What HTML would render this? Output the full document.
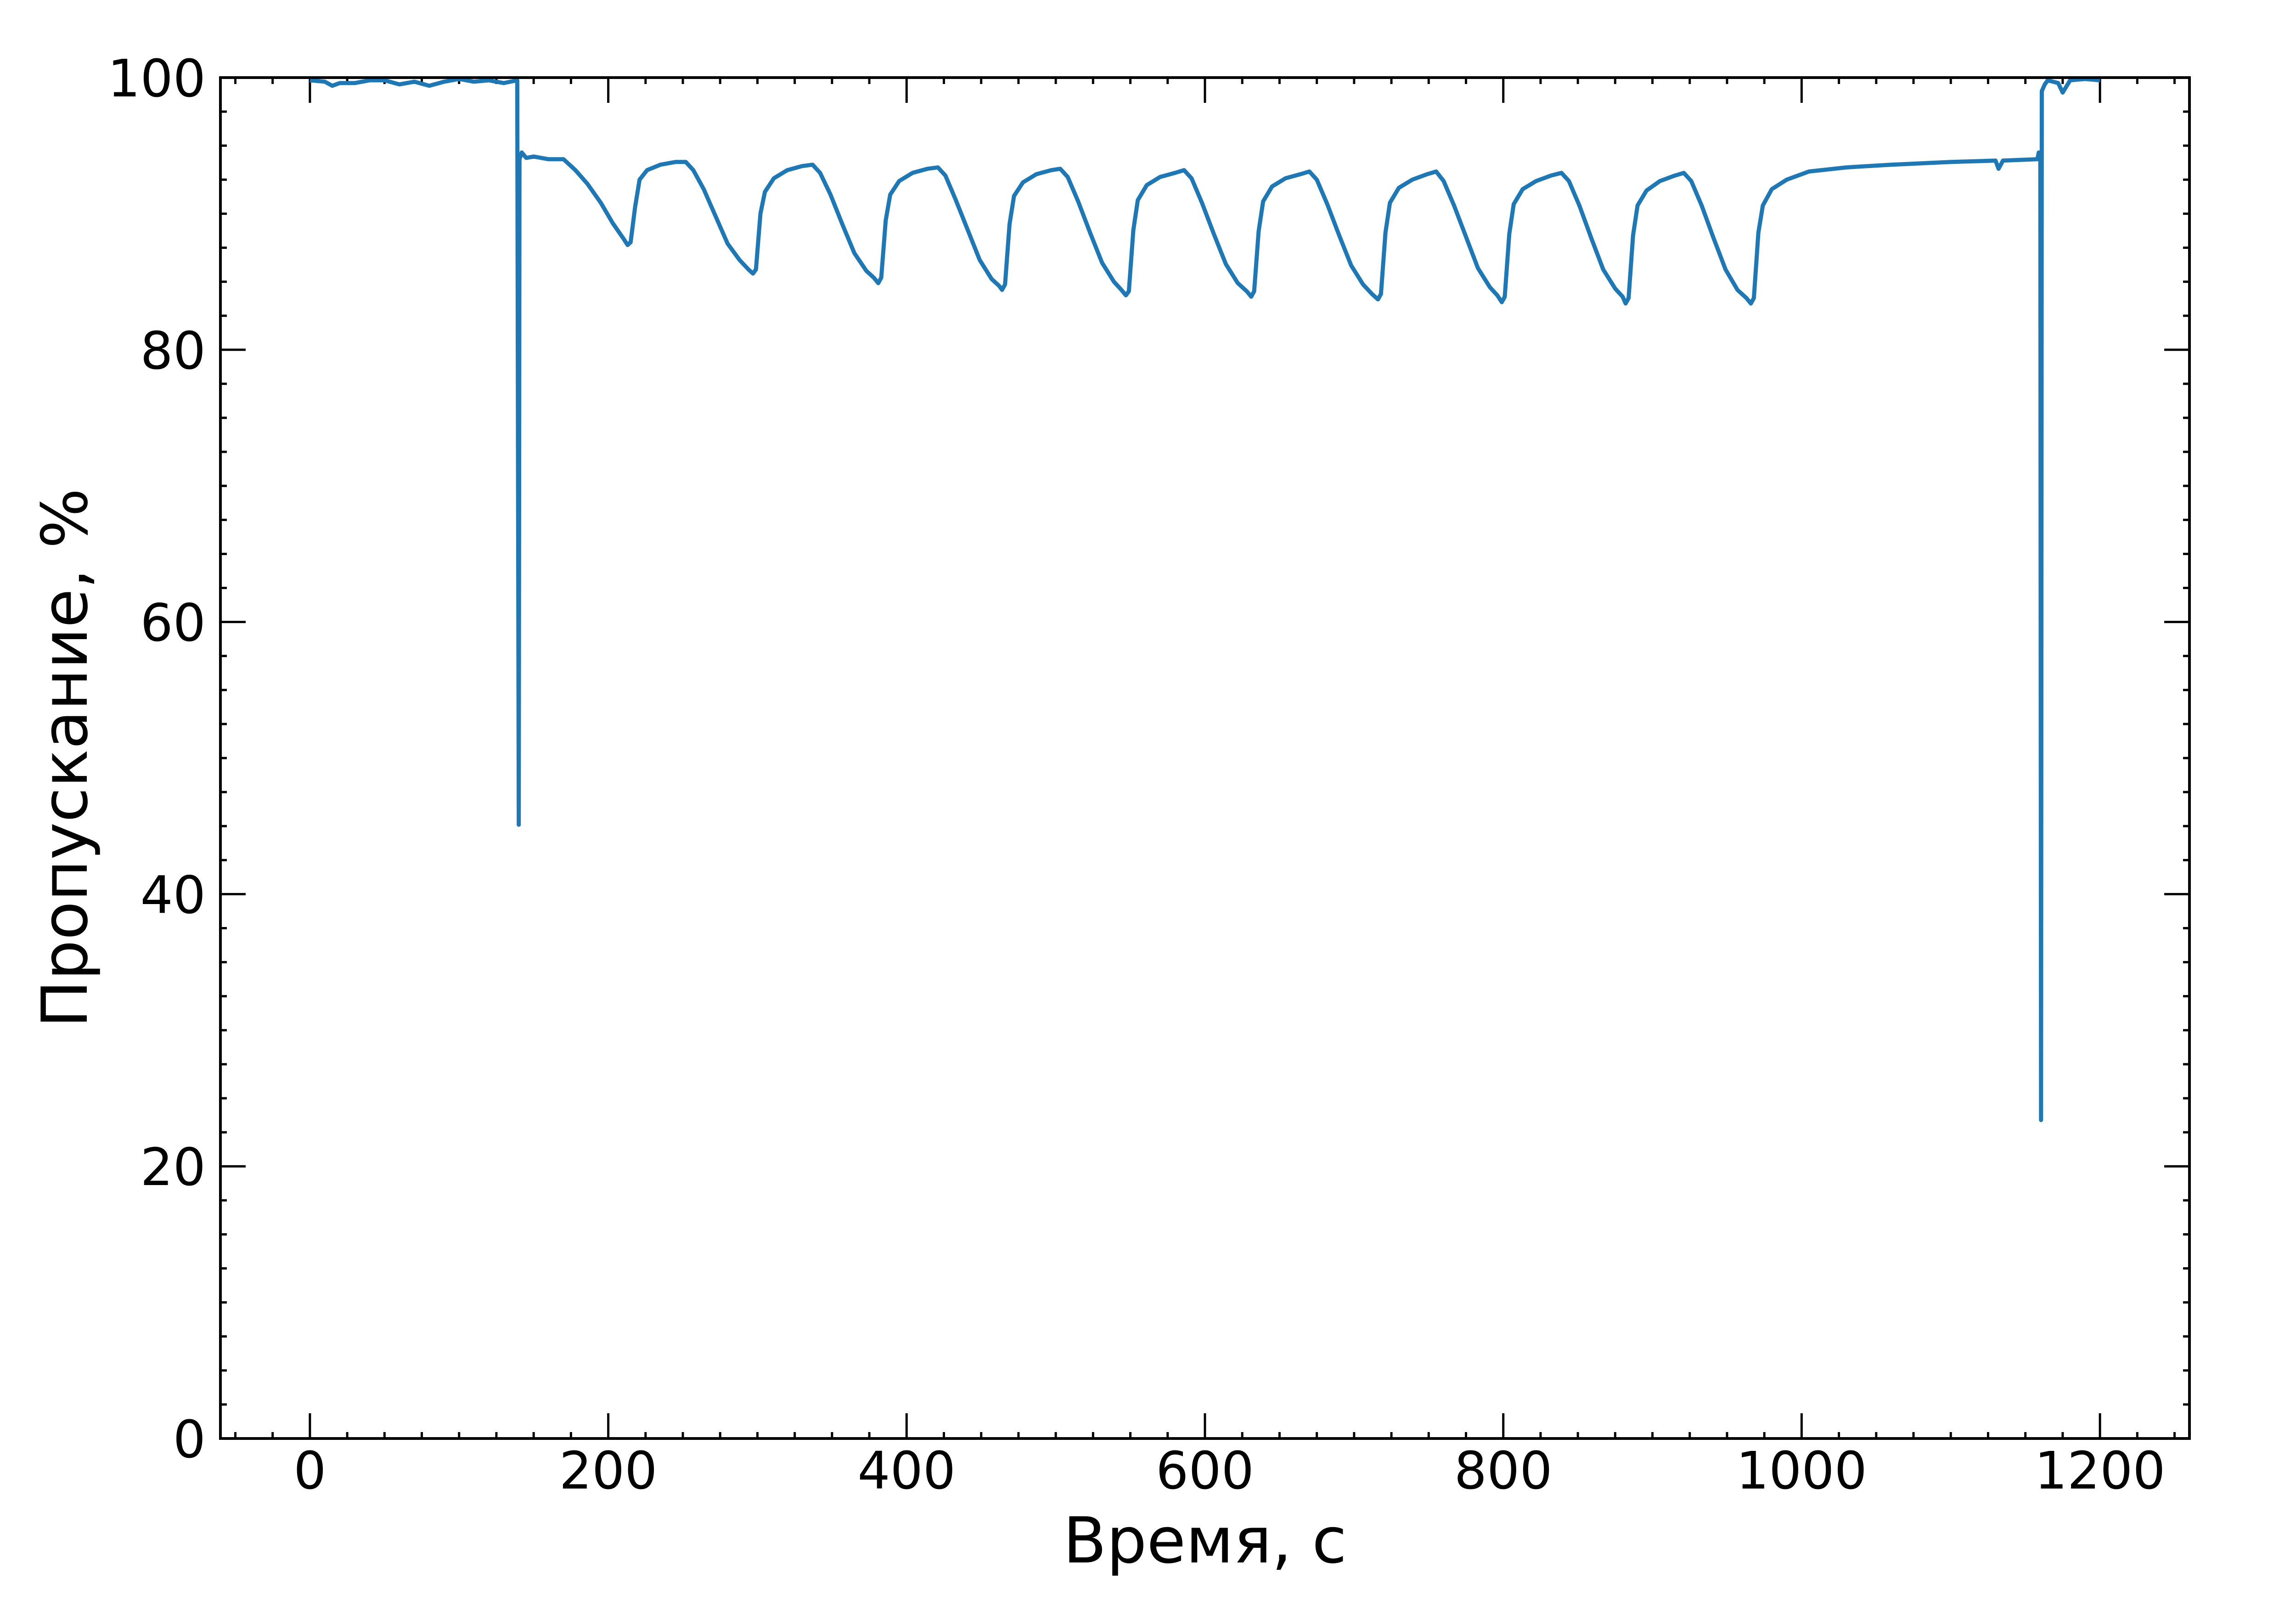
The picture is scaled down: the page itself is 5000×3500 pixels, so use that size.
<!DOCTYPE html>
<html><head><meta charset="utf-8">
<style>
html,body{margin:0;padding:0;background:#fff;}
svg{display:block;}
text{font-family:"DejaVu Sans","Liberation Sans",sans-serif;fill:#000;}
</style></head>
<body>
<svg id="chart" xmlns="http://www.w3.org/2000/svg" width="5000" height="3500" viewBox="0 0 5000 3500">
<rect x="0" y="0" width="5000" height="3500" fill="#fff"/>
<defs><clipPath id="plotclip"><rect x="480" y="169" width="4288" height="2964"/></clipPath></defs>
<g id="ticks"></g>
<g id="series" clip-path="url(#plotclip)"></g>
<rect x="480" y="169" width="4288" height="2964" fill="none" stroke="#000" stroke-width="6"/>
<g id="labels"></g>
<text x="2624" y="3403" font-size="138" text-anchor="middle">Время, с</text>
<text transform="translate(189,1651) rotate(-90)" x="0" y="0" font-size="138" text-anchor="middle">Пропускание, %</text>
</svg>
<script>
const xMajorTicks = [0, 200, 400, 600, 800, 1000, 1200];
const xTickLabels = ["0", "200", "400", "600", "800", "1000", "1200"];
const yMajorTicks = [0, 20, 40, 60, 80, 100];
const yTickLabels = ["0", "20", "40", "60", "80", "100"];
const xMinorStep = 25;
const yMinorStep = 2.5;
const timeValues = [0,10,15,20,30,40,50,60,70,80,90,100,110,120,130,139,140,140.5,142,145,150,160,170,178,186,195,203,210,213,215,218,221,226,235,245,252,
257,264,272,280,288,294,297,299,302,305,311,320,330,337,
342,349,357,365,373,378,381,383,386,389,395,404,414,421,
426,433,441,449,457,462,464,466,469,472,478,487,497,503,
508,515,523,531,539,544,547,549,552,555,561,570,580,586,
591,598,606,614,622,628,631,633,636,639,645,654,664,670,
675,682,690,698,706,712,716,718,721,724,730,739,749,755,
760,767,775,783,791,796,799,801,804,807,813,822,832,839,
844,851,859,867,875,880,882,884,887,890,896,905,915,921,
926,933,941,949,957,963,966,968,971,974,980,990,1005,1030,1060,1100,1130,1132,1135,1158,1159,1160,1160.5,1161,1163,1165,1172,1175,1180,1190,1200];
const transmissionValues = [99.8,99.7,99.4,99.6,99.6,99.8,99.8,99.5,99.7,99.4,99.7,99.9,99.7,99.8,99.6,99.8,45.1,94.0,94.5,94.1,94.2,94.0,94.0,93.2,92.2,90.8,89.3,88.2,87.7,87.9,90.5,92.5,93.2,93.6,93.8,93.8,
93.2,91.8,89.8,87.8,86.6,85.9,85.6,85.9,90.0,91.6,92.6,93.2,93.5,93.6,
93.0,91.4,89.2,87.1,85.8,85.3,84.9,85.3,89.5,91.4,92.4,93.0,93.3,93.4,
92.8,91.0,88.8,86.6,85.2,84.7,84.4,84.8,89.2,91.3,92.3,92.9,93.2,93.3,
92.7,90.9,88.6,86.4,85.0,84.4,84.0,84.3,88.8,91.0,92.1,92.7,93.0,93.2,
92.6,90.8,88.5,86.3,84.9,84.3,83.9,84.3,88.7,90.9,92.0,92.6,92.9,93.1,
92.5,90.7,88.4,86.2,84.8,84.1,83.7,84.1,88.6,90.8,91.9,92.5,92.9,93.1,
92.4,90.6,88.3,86.0,84.6,84.0,83.5,83.9,88.5,90.7,91.8,92.4,92.8,93.0,
92.4,90.6,88.2,85.9,84.5,83.9,83.4,83.8,88.4,90.6,91.7,92.4,92.8,93.0,
92.4,90.6,88.2,85.9,84.4,83.8,83.4,83.8,88.6,90.6,91.8,92.5,93.1,93.4,93.6,93.8,93.9,93.3,93.9,94.0,94.5,93.9,23.4,99.0,99.5,99.8,99.6,98.9,99.8,99.9,99.8];

const X0=480, X1=4768, Y0=3133, Y1=169, XMIN=-60, XMAX=1260, YMIN=0, YMAX=100;
function sx(v){return X0+(v-XMIN)/(XMAX-XMIN)*(X1-X0);}
function sy(v){return Y0-(v-YMIN)/(YMAX-YMIN)*(Y0-Y1);}
const NS="http://www.w3.org/2000/svg";
const tg=document.getElementById('ticks'), lg=document.getElementById('labels'), sg=document.getElementById('series');
function line(g,x1,y1,x2,y2,name){
  const l=document.createElementNS(NS,'line');
  l.setAttribute('x1',x1);l.setAttribute('y1',y1);l.setAttribute('x2',x2);l.setAttribute('y2',y2);
  l.setAttribute('stroke','#000');l.setAttribute('stroke-width','5');
  
  
  g.appendChild(l);
}
const MAJ=55, MIN=14;
for(let v=-50; v<=1250; v+=xMinorStep){
  const x=sx(v); const major=xMajorTicks.indexOf(v)>=0; const L=major?MAJ:MIN;
  line(tg,x,Y0,x,Y0-L,major?'x-major-tick':'x-minor-tick');
  line(tg,x,Y1,x,Y1+L,major?'x-major-tick-top':'x-minor-tick-top');
}
for(let v=0; v<=100; v+=yMinorStep){
  const y=sy(v); const major=yMajorTicks.indexOf(v)>=0; const L=major?MAJ:MIN;
  line(tg,X0,y,X0+L,y,major?'y-major-tick':'y-minor-tick');
  line(tg,X1,y,X1-L,y,major?'y-major-tick-right':'y-minor-tick-right');
}
xMajorTicks.forEach((v,i)=>{
  const t=document.createElementNS(NS,'text');
  t.setAttribute('x',sx(v));t.setAttribute('y',3242);t.setAttribute('font-size','112');t.setAttribute('text-anchor','middle');
  t.textContent=xTickLabels[i];
  
  
  lg.appendChild(t);
});
yMajorTicks.forEach((v,i)=>{
  const t=document.createElementNS(NS,'text');
  t.setAttribute('x',448);t.setAttribute('y',sy(v)+41);t.setAttribute('font-size','112');t.setAttribute('text-anchor','end');
  t.textContent=yTickLabels[i];
  
  
  lg.appendChild(t);
});
let d='';
timeValues.forEach((t,i)=>{d+=(i?'L':'M')+sx(t).toFixed(1)+' '+sy(transmissionValues[i]).toFixed(1)+' ';});
const p=document.createElementNS(NS,'path');
p.setAttribute('d',d);p.setAttribute('fill','none');p.setAttribute('stroke','#1f77b4');p.setAttribute('stroke-width','9');p.setAttribute('stroke-linejoin','round');


sg.appendChild(p);
</script>
</body></html>
